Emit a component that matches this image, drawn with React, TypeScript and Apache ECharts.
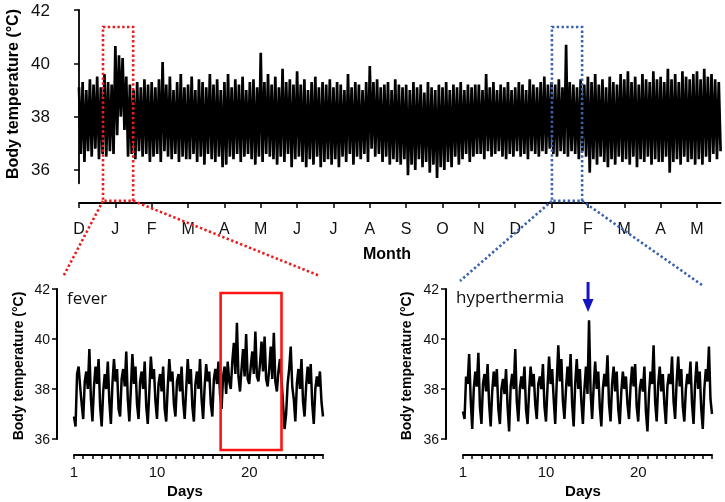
import React, { useEffect, useRef } from 'react';
import * as echarts from 'echarts';

// ---------- axis labels ----------
const monthLabels = ['D', 'J', 'F', 'M', 'A', 'M', 'J', 'J', 'A', 'S', 'O', 'N', 'D', 'J', 'F', 'M', 'A', 'M'];
const topTempTicks = [36, 38, 40, 42];
const dayLabelTicks = [1, 10, 20];

// ---------- top panel: per 3-day bucket (0.1 month) highs and lows, from Dec ----------
const topHigh = [
  39.1, 39.3, 39.0, 39.4, 39.2, 39.5, 39.1, 39.6, 39.3, 39.2, // D
  40.65, 40.3, 40.2, 39.5, 39.2, 39.0, 39.3, 39.1, 39.4, 39.2, // J
  39.3, 39.1, 39.4, 40.05, 39.2, 39.5, 39.0, 39.3, 39.6, 39.1, // F
  39.2, 39.5, 39.0, 39.4, 39.3, 39.1, 39.6, 39.2, 39.4, 39.0, // M
  39.3, 39.6, 39.1, 39.4, 39.2, 39.5, 39.0, 39.3, 39.4, 39.1, // A
  40.4, 39.3, 39.6, 39.2, 39.5, 39.1, 39.8, 39.3, 39.4, 39.2, // M
  39.7, 39.2, 39.4, 39.0, 39.3, 39.5, 39.1, 39.3, 39.2, 39.4, // J
  39.1, 39.3, 39.2, 39.0, 39.6, 39.1, 39.3, 39.2, 39.0, 39.3, // J
  39.9, 39.3, 39.4, 39.1, 39.2, 39.3, 39.0, 39.4, 39.2, 39.1, // A
  39.2, 39.0, 39.3, 39.1, 39.2, 38.9, 39.3, 39.1, 39.0, 39.2, // S
  39.1, 39.3, 39.0, 39.2, 39.1, 39.3, 39.0, 39.2, 39.1, 39.2, // O
  39.2, 39.0, 39.6, 39.1, 39.3, 39.0, 39.2, 39.1, 39.3, 39.0, // N
  39.1, 39.3, 39.2, 39.0, 39.4, 39.2, 39.1, 39.3, 39.5, 39.2, // D
  39.3, 39.2, 39.4, 39.1, 40.7, 39.3, 39.2, 39.1, 39.4, 39.2, // J
  39.5, 39.3, 39.6, 39.2, 39.4, 39.1, 39.5, 39.3, 39.2, 39.6, // F
  39.4, 39.7, 39.3, 39.5, 39.2, 39.6, 39.4, 39.3, 39.7, 39.4, // M
  39.5, 39.3, 39.8, 39.4, 39.6, 39.3, 39.7, 39.5, 39.4, 39.6, // A
  39.7, 39.4, 39.8, 39.5, 39.6, 39.4, 39.3, // M
];
const topLow = [
  36.6, 36.3, 36.7, 36.5, 36.8, 36.4, 36.6, 36.5, 36.7, 36.6,
  37.3, 38.0, 37.5, 36.5, 36.6, 36.4, 36.7, 36.5, 36.6, 36.3,
  36.5, 36.6, 36.3, 36.7, 36.5, 36.4, 36.6, 36.3, 36.5, 36.4,
  36.4, 36.6, 36.3, 36.5, 36.2, 36.6, 36.4, 36.3, 36.5, 36.1,
  36.2, 36.5, 36.4, 36.6, 36.3, 36.5, 36.6, 36.4, 36.2, 36.5,
  36.3, 36.6, 36.5, 36.4, 36.2, 36.5, 36.3, 36.6, 36.1, 36.4,
  36.5, 36.3, 36.1, 36.4, 36.2, 36.5, 36.1, 36.3, 36.4, 36.2,
  36.4, 36.1, 36.5, 36.3, 36.6, 36.2, 36.5, 36.4, 36.6, 36.3,
  36.8, 36.5, 36.6, 36.3, 36.5, 36.2, 36.4, 36.3, 36.2, 36.4,
  35.8, 36.2, 36.0, 36.4, 36.1, 36.3, 35.9, 36.2, 35.7, 36.1,
  36.0, 36.3, 36.1, 36.5, 36.2, 36.4, 36.6, 36.3, 36.5, 36.6,
  36.6, 36.4, 36.7, 36.5, 36.6, 36.7, 36.5, 36.4, 36.6, 36.5,
  36.7, 36.5, 36.6, 36.4, 36.7, 36.6, 36.5, 36.7, 36.6, 36.8,
  36.6, 36.5, 36.7, 36.6, 36.5, 36.7, 36.6, 36.4, 36.7, 36.5,
  35.9, 36.4, 36.2, 36.5, 36.3, 36.1, 36.4, 36.2, 36.5, 36.3,
  36.4, 36.2, 36.5, 36.1, 36.4, 36.3, 36.5, 36.2, 36.4, 36.3,
  36.3, 36.5, 35.9, 36.3, 36.4, 36.2, 36.5, 36.3, 36.4, 36.2,
  36.4, 36.2, 36.5, 36.3, 36.6, 36.4, 36.7,
];

// ---------- bottom panels: 6 readings per day (every 4 h), day 1 .. day 28 ----------
const feverTemp = [
  36.9, 36.5, 38.6, 38.9, 38.1, 37.4,
  36.8, 38.3, 38.7, 38.0, 39.6, 37.6,
  36.7, 38.1, 38.9, 38.2, 39.2, 37.3,
  36.5, 37.9, 38.6, 38.0, 39.1, 37.5,
  36.6, 38.2, 39.2, 38.3, 38.8, 37.2,
  36.9, 38.4, 38.8, 38.1, 39.5, 37.6,
  36.7, 38.0, 39.4, 38.2, 38.9, 37.4,
  36.8, 38.3, 38.7, 38.0, 39.1, 37.3,
  36.6, 37.9, 39.3, 38.4, 38.8, 37.5,
  36.8, 38.2, 38.6, 37.9, 38.9, 37.2,
  36.7, 38.1, 39.2, 38.3, 38.7, 37.4,
  36.9, 38.3, 38.6, 37.9, 38.9, 37.5,
  36.8, 38.0, 39.2, 38.2, 38.8, 37.3,
  36.7, 38.2, 38.7, 38.0, 39.2, 37.6,
  36.8, 38.1, 39.0, 38.3, 38.7, 37.4,
  36.9, 38.4, 38.8, 38.2, 39.1, 37.8,
  37.2, 38.5, 38.9, 37.8, 39.1, 38.3,
  38.0, 39.1, 39.85, 38.6, 40.65, 38.5,
  37.9, 38.8, 39.6, 38.5, 40.2, 38.4,
  38.2, 38.9, 39.5, 38.6, 40.3, 38.5,
  38.3, 39.0, 39.9, 38.7, 40.1, 38.4,
  38.1, 38.8, 39.7, 38.4, 40.25, 38.3,
  37.9, 38.7, 39.2, 38.4, 37.4, 36.4,
  37.0, 38.2, 38.8, 39.7, 38.1, 37.6,
  36.7, 38.2, 38.8, 38.0, 39.2, 37.5,
  36.9, 38.1, 38.9, 38.2, 39.0, 37.4,
  36.6, 38.0, 38.5, 38.1, 38.7, 37.5,
  36.9,
];
const hyperTemp = [
  37.1, 36.8, 38.5, 38.2, 39.4, 37.6,
  36.4, 38.0, 38.7, 38.1, 39.45, 37.3,
  36.6, 38.2, 38.6, 37.9, 39.0, 37.4,
  36.5, 37.9, 38.7, 38.1, 38.8, 37.2,
  36.6, 38.0, 38.4, 37.8, 38.8, 37.3,
  36.3, 38.1, 38.6, 38.0, 39.6, 37.5,
  36.7, 38.0, 38.5, 38.0, 38.9, 37.2,
  36.6, 37.9, 38.9, 38.1, 38.6, 37.4,
  36.8, 38.2, 38.5, 38.0, 39.0, 37.3,
  36.7, 38.1, 39.3, 38.2, 38.8, 37.6,
  36.6, 38.3, 39.75, 38.3, 39.2, 37.5,
  36.8, 38.0, 38.9, 38.1, 39.4, 37.4,
  36.5, 38.2, 39.2, 38.0, 38.8, 37.5,
  36.6, 38.0, 38.9, 37.8, 40.75, 37.9,
  36.8, 38.1, 39.1, 38.0, 38.7, 37.3,
  36.5, 38.0, 38.6, 38.1, 39.35, 37.4,
  36.7, 38.2, 38.9, 37.9, 38.7, 37.2,
  36.6, 37.9, 38.7, 38.0, 38.5, 37.4,
  36.8, 38.1, 38.9, 38.1, 39.0, 37.3,
  36.7, 38.0, 38.4, 37.9, 38.9, 37.1,
  36.3, 37.8, 38.7, 38.2, 39.75, 37.5,
  36.7, 38.2, 38.9, 37.9, 38.6, 37.4,
  36.6, 38.1, 38.6, 38.2, 39.3, 37.5,
  36.8, 38.3, 39.3, 38.1, 38.8, 37.3,
  36.7, 38.0, 38.6, 38.2, 39.1, 37.4,
  36.6, 38.2, 39.1, 38.0, 38.7, 37.2,
  36.4, 38.0, 38.8, 38.3, 39.7, 37.6,
  37.0,
];

const FONT = "'Liberation Sans', Arial, sans-serif";
const RED = '#ee1d1d';
const BLUE_DOT = '#3a63ad';

export default function App() {
  const ref = useRef<HTMLDivElement>(null);

  useEffect(() => {
    const chart = echarts.init(ref.current!, null, { renderer: 'svg' });

    const topData: number[][] = [];
    topHigh.forEach((h, i) => {
      topData.push([i * 0.1, h]);
      topData.push([i * 0.1 + 0.05, topLow[i]]);
    });
    const feverData = feverTemp.map((v, i) => [1 + i / 6, v]);
    const hyperData = hyperTemp.map((v, i) => [1 + i / 6, v]);

    const monthTickValues = monthLabels.map((_, i) => i);
    const dayTickValues = Array.from({ length: 28 }, (_, i) => i + 1);

    const bottomX = (gi: number) => ({
      type: 'value', gridIndex: gi, min: 1, max: 28, offset: 16,
      axisLine: { show: true, lineStyle: { color: '#000', width: 2 } },
      axisTick: { show: true, customValues: dayTickValues, length: 4, lineStyle: { color: '#000', width: 1.5 } },
      axisLabel: { customValues: dayLabelTicks, fontSize: 15, color: '#111', fontFamily: FONT, margin: 9 },
      splitLine: { show: false },
    });
    const bottomY = (gi: number) => ({
      type: 'value', gridIndex: gi, min: 36, max: 42, interval: 2, offset: 17,
      axisLine: { show: true, lineStyle: { color: '#000', width: 2 } },
      axisTick: { show: true, length: 5, lineStyle: { color: '#000', width: 1.5 } },
      axisLabel: { fontSize: 14, color: '#111', fontFamily: FONT, margin: 7 },
      splitLine: { show: false },
    });

    chart.setOption({
      animation: false,
      grid: [
        { left: 79, top: 10, width: 641.6, height: 173.3 },
        { left: 74, top: 289, width: 249, height: 150 },
        { left: 463, top: 289, width: 249, height: 150 },
      ],
      xAxis: [
        {
          type: 'value', gridIndex: 0, min: 0, max: 17.65, offset: 19.7,
          axisLine: { show: true, lineStyle: { color: '#000', width: 1.8 } },
          axisTick: { show: true, customValues: monthTickValues, length: 5, lineStyle: { color: '#000', width: 1.5 } },
          axisLabel: {
            customValues: monthTickValues, fontSize: 16, color: '#111', fontFamily: FONT, margin: 17,
            formatter: (v: number) => monthLabels[Math.round(v)] ?? '',
          },
          splitLine: { show: false },
        },
        bottomX(1),
        bottomX(2),
      ],
      yAxis: [
        {
          type: 'value', gridIndex: 0, min: 35.5, max: 42, offset: 21,
          axisLine: { show: true, lineStyle: { color: '#000', width: 1.8 } },
          axisTick: { show: true, customValues: topTempTicks, length: 5, lineStyle: { color: '#000', width: 1.5 } },
          axisLabel: { customValues: topTempTicks, fontSize: 17, color: '#111', fontFamily: FONT, margin: 8 },
          splitLine: { show: false },
        },
        bottomY(1),
        bottomY(2),
      ],
      series: [
        {
          type: 'line', xAxisIndex: 0, yAxisIndex: 0, data: topData, showSymbol: false,
          lineStyle: { color: '#000', width: 2.7, join: 'miter' }, silent: true,
        },
        {
          type: 'line', xAxisIndex: 1, yAxisIndex: 1, data: feverData, showSymbol: false,
          lineStyle: { color: '#000', width: 2.5 }, silent: true,
        },
        {
          type: 'line', xAxisIndex: 2, yAxisIndex: 2, data: hyperData, showSymbol: false,
          lineStyle: { color: '#000', width: 2.5 }, silent: true,
        },
      ],
    });

    const px = (g: number, pt: number[]) => chart.convertToPixel({ gridIndex: g } as any, pt) as number[];

    const r1 = px(0, [0.66, 41.36]);
    const r2 = px(0, [1.49, 34.84]);
    const b1 = px(0, [13.01, 41.36]);
    const b2 = px(0, [13.84, 34.84]);
    const f1 = px(1, [16.9, 41.84]);
    const f2 = px(1, [23.5, 35.56]);
    const a1 = px(2, [14.56, 42.28]);

    const dotted = (color: string) => ({ stroke: color, lineWidth: 2.6, lineDash: [2.4, 2.4], fill: 'none' });

    chart.setOption({
      graphic: [
        { type: 'rect', shape: { x: r1[0], y: r1[1], width: r2[0] - r1[0], height: r2[1] - r1[1] }, style: dotted(RED), z: 100 },
        { type: 'line', shape: { x1: r1[0], y1: r2[1], x2: 63, y2: 277 }, style: dotted(RED), z: 100 },
        { type: 'line', shape: { x1: r2[0], y1: r2[1], x2: 320, y2: 276 }, style: dotted(RED), z: 100 },
        { type: 'rect', shape: { x: b1[0], y: b1[1], width: b2[0] - b1[0], height: b2[1] - b1[1] }, style: dotted(BLUE_DOT), z: 100 },
        { type: 'line', shape: { x1: b1[0], y1: b2[1], x2: 460, y2: 281 }, style: dotted(BLUE_DOT), z: 100 },
        { type: 'line', shape: { x1: b2[0], y1: b2[1], x2: 702, y2: 285 }, style: dotted(BLUE_DOT), z: 100 },
        { type: 'rect', shape: { x: f1[0], y: f1[1], width: f2[0] - f1[0], height: f2[1] - f1[1] }, style: { stroke: '#ff1414', lineWidth: 2.6, fill: 'none' }, z: 100 },
        { type: 'line', shape: { x1: a1[0], y1: a1[1], x2: a1[0], y2: a1[1] + 19 }, style: { stroke: '#1414c4', lineWidth: 3 }, z: 100 },
        { type: 'polygon', shape: { points: [[a1[0] - 5.5, a1[1] + 17], [a1[0] + 5.5, a1[1] + 17], [a1[0], a1[1] + 30]] }, style: { fill: '#1414c4' }, z: 100 },
        { type: 'text', x: 67, y: 297, style: { text: 'fever', font: "17px 'Open Sans', sans-serif", fill: '#111', align: 'left', verticalAlign: 'middle' }, z: 100 },
        { type: 'text', x: 456, y: 296, style: { text: 'hyperthermia', font: "17px 'Open Sans', sans-serif", fill: '#111', align: 'left', verticalAlign: 'middle' }, z: 100 },
        { type: 'text', x: 12, y: 94, rotation: Math.PI / 2, style: { text: 'Body temperature (°C)', font: `bold 16px ${FONT}`, fill: '#000', align: 'center', verticalAlign: 'middle' }, z: 100 },
        { type: 'text', x: 18, y: 366, rotation: Math.PI / 2, style: { text: 'Body temperature (°C)', font: `bold 14px ${FONT}`, fill: '#000', align: 'center', verticalAlign: 'middle' }, z: 100 },
        { type: 'text', x: 406, y: 366, rotation: Math.PI / 2, style: { text: 'Body temperature (°C)', font: `bold 14px ${FONT}`, fill: '#000', align: 'center', verticalAlign: 'middle' }, z: 100 },
        { type: 'text', x: 387, y: 253, style: { text: 'Month', font: `bold 16px ${FONT}`, fill: '#000', align: 'center', verticalAlign: 'middle' }, z: 100 },
        { type: 'text', x: 185, y: 490, style: { text: 'Days', font: `bold 15px ${FONT}`, fill: '#000', align: 'center', verticalAlign: 'middle' }, z: 100 },
        { type: 'text', x: 583, y: 490, style: { text: 'Days', font: `bold 15px ${FONT}`, fill: '#000', align: 'center', verticalAlign: 'middle' }, z: 100 },
      ],
    });

    return () => chart.dispose();
  }, []);

  return <div ref={ref} style={{ position: 'fixed', left: 0, top: 0, width: 725, height: 502 }} />;
}
